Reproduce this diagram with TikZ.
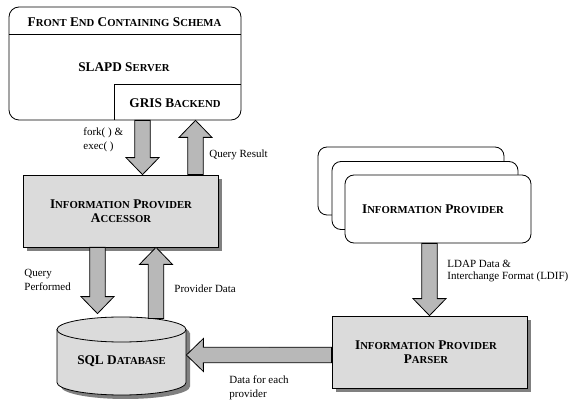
\documentclass[tikz,border=0pt]{standalone}
\usepackage{fontspec}
\setmainfont{Liberation Serif}
\usetikzlibrary{calc,shadows}
\definecolor{boxgray}{gray}{0.86}
\definecolor{arrgray}{gray}{0.72}
\definecolor{shgray}{gray}{0.5}
\newcommand\scw[2]{{\fontsize{13.3pt}{15pt}\selectfont #1}{\fontsize{10.7pt}{15pt}\selectfont #2}}
\begin{document}
\begin{tikzpicture}[x=1pt,y=-1pt,line width=0.8pt,
  boxlbl/.style={font=\bfseries\fontsize{13.3pt}{14pt}\selectfont,align=center,inner sep=0pt},
  lbl/.style={font=\fontsize{11pt}{14pt}\selectfont,align=left,inner sep=0pt,anchor=west},
  graybox/.style={draw,fill=boxgray,minimum width=195pt,minimum height=72pt,inner sep=0pt,
    drop shadow={shadow xshift=4pt,shadow yshift=-4pt,fill=shgray,opacity=1}},
  ipbox/.style={draw,fill=white,rounded corners=9pt,minimum width=186pt,minimum height=68pt,inner sep=0pt},
  barrow/.style={draw=black,fill=arrgray,line width=0.8pt,line join=miter,
    to path={($(\tikztostart)!7.75pt!-90:(\tikztotarget)$)
      -- ($(\tikztotarget)!18.68pt!24.51:(\tikztostart)$)
      -- ($(\tikztotarget)!23.69pt!44.14:(\tikztostart)$)
      -- (\tikztotarget)
      -- ($(\tikztotarget)!23.69pt!-44.14:(\tikztostart)$)
      -- ($(\tikztotarget)!18.68pt!-24.51:(\tikztostart)$)
      -- ($(\tikztostart)!7.75pt!90:(\tikztotarget)$) -- cycle}}]
\useasboundingbox (0,0) rectangle (571,406);

% Front end box
\node (front) [draw,fill=white,rounded corners=10pt,minimum width=232pt,minimum height=113pt,inner sep=0pt] at (125,63.5) {};
\draw (9,34) -- (241,34);
\draw (114,120) -- (114,84) -- (241,84);
\node (hdr) [boxlbl] at (124.5,22) {\scw{F}{RONT} \scw{E}{ND} \scw{C}{ONTAINING} \scw{S}{CHEMA}};
\node (slapd) [boxlbl] at (124,67) {SLAPD \scw{S}{ERVER}};
\node (gris) [boxlbl] at (175,103) {GRIS \scw{B}{ACKEND}};

% Accessor
\node (acc) [graybox] at (120.5,211) {};
\node (acclbl) [boxlbl] at (121,211.5) {\scw{I}{NFORMATION} \scw{P}{ROVIDER}\\\scw{A}{CCESSOR}};

% Information provider stack
\node (ip1) [ipbox] at (411,181) {};
\node (ip2) [ipbox] at (425,195.5) {};
\node (ip3) [ipbox] at (438,209) {};
\node (iplbl) [boxlbl] at (433,209) {\scw{I}{NFORMATION} \scw{P}{ROVIDER}};

% Parser
\node (parser) [graybox] at (429.5,352) {};
\node (parlbl) [boxlbl] at (426,352) {\scw{I}{NFORMATION} \scw{P}{ROVIDER}\\\scw{P}{ARSER}};

% Database cylinder
\node (db) [minimum width=129pt,minimum height=78pt,inner sep=0pt] at (121.5,356) {};
\begin{scope}[shift={(4,4)}]
\fill[shgray] (57,329.5) -- (57,382.5) .. controls (57,389.4) and (85.9,395) .. (121.5,395)
   .. controls (157.1,395) and (186,389.4) .. (186,382.5) -- (186,329.5) -- cycle;
\fill[shgray] (121.5,329.5) ellipse [x radius=64.5pt,y radius=12.5pt];
\end{scope}
\draw[fill=boxgray] (57,329.5) -- (57,382.5) .. controls (57,389.4) and (85.9,395) .. (121.5,395)
   .. controls (157.1,395) and (186,389.4) .. (186,382.5) -- (186,329.5) -- cycle;
\draw[fill=boxgray] (121.5,329.5) ellipse [x radius=64.5pt,y radius=12.5pt];
\node (dblbl) [boxlbl] at ($(db.center)+(0,5)$) {SQL \scw{D}{ATABASE}};

% Arrow coordinates
\coordinate (fx) at (142.5,0);
\coordinate (qrx) at (195.5,0);
\coordinate (qpx) at (97.5,0);
\coordinate (pdx) at (156,0);
\coordinate (ldx) at (429.5,0);
\coordinate (dy) at (0,355);
\coordinate (qpend) at ($(qpx |- db.north)+(0,-3)$);
\coordinate (pdstart) at ($(pdx |- db.north)+(0,2)$);

\draw[barrow] (fx |- front.south) to (fx |- acc.north);
\draw[barrow] (qrx |- acc.north) to (qrx |- front.south);
\draw[barrow] (qpx |- acc.south) to (qpend);
\draw[barrow] (pdstart) to (pdx |- acc.south);
\draw[barrow] (ldx |- ip3.south) to (ldx |- parser.north);
\draw[barrow] (parser.west |- dy) to (db.east |- dy);

% Labels
\node (lfork) [lbl] at (83,140) {fork( ) \&\\exec( )};
\node (lqres) [lbl] at (209,155) {Query Result};
\node (lqperf) [lbl] at (24,280) {Query\\Performed};
\node (lpdata) [lbl] at (174,289) {Provider Data};
\node (lldif) [lbl,font=\fontsize{11pt}{12pt}\selectfont] at (447,271) {LDAP Data \&\\Interchange Format (LDIF)};
\node (ldata) [lbl] at (229,388) {Data for each\\provider};
\end{tikzpicture}
\end{document}
